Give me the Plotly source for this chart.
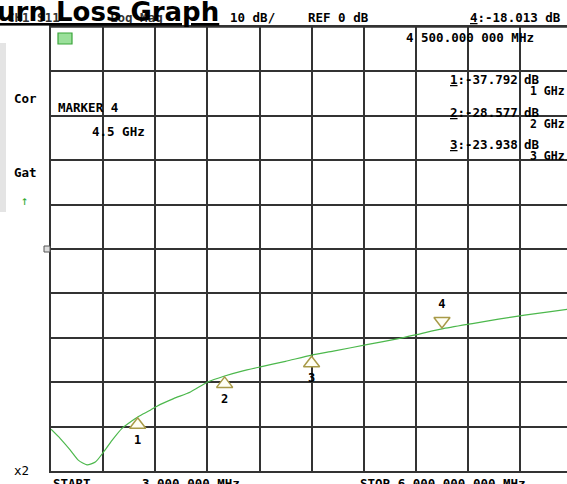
import plotly.graph_objects as go

# ---- data (frequency in MHz, return loss in dB) ----
freq_mhz = [3, 110, 225, 320, 417, 513, 608, 705, 820, 935, 1010, 1145, 1222, 1413, 1607,
            1800, 2000, 2200, 2400, 2700, 3000, 3250, 3650, 4000, 4250, 4500, 4850,
            5150, 5450, 5750, 6000]
s11_db = [-40.6, -42.7, -45.3, -47.6, -48.6, -48.0, -45.7, -43.1, -40.4, -38.7, -37.7,
          -36.3, -35.4, -33.7, -32.2, -30.0, -28.6, -27.5, -26.6, -25.3, -23.9, -23.0,
          -21.5, -20.2, -19.1, -18.0, -16.8, -15.8, -14.9, -14.1, -13.4]

marker_ids = ["1", "2", "3"]
marker_freq = [1000, 2000, 3000]
marker_db = [-37.792, -28.577, -23.938]
active_id = "4"
active_freq = 4500
active_db = -18.013

start_mhz = 3
stop_mhz = 6000
ref_db = 0
db_per_div = 10

W, H = 567, 484
L, R, T, B = 51, 0, 27, 13
pw = W - L - R
ph = H - T - B
full_w = 521.4  # full 10-division width in px (right edge lies outside the window)
x_max = start_mhz + pw / full_w * (stop_mhz - start_mhz)
db_per_px = (10 * db_per_div) / ph

def px(x):
    return (x - L) / pw

def py(y):
    return (H - B - y) / ph

green = "#4cb84c"
olive = "#a89a48"
mono = "DejaVu Sans Mono"

fig = go.Figure()
fig.add_trace(go.Scatter(x=freq_mhz, y=s11_db, mode="lines",
                         line=dict(color=green, width=1.2, shape="spline", smoothing=0.6),
                         hoverinfo="skip", showlegend=False))

# passive markers: triangle below the trace, tip on the trace
off = 8 * db_per_px
fig.add_trace(go.Scatter(x=marker_freq, y=[v - off for v in marker_db], mode="markers+text",
                         marker=dict(symbol="triangle-up", size=14, color="#fffff4",
                                     line=dict(color=olive, width=1.5)),
                         text=["<b>%s</b>" % m for m in marker_ids], textposition="bottom center",
                         textfont=dict(family=mono, size=12, color="black"),
                         hoverinfo="skip", showlegend=False, cliponaxis=False))
# active marker: inverted triangle above the trace
fig.add_trace(go.Scatter(x=[active_freq], y=[active_db + off], mode="markers+text",
                         marker=dict(symbol="triangle-down", size=14, color="#fffff4",
                                     line=dict(color=olive, width=1.5)),
                         text=["<b>%s</b>" % active_id], textposition="top center",
                         textfont=dict(family=mono, size=12, color="black"),
                         hoverinfo="skip", showlegend=False, cliponaxis=False))

fig.update_xaxes(range=[start_mhz, x_max], tick0=start_mhz,
                 dtick=(stop_mhz - start_mhz) / 10, showticklabels=False, ticks="",
                 showgrid=True, gridcolor="#333333", gridwidth=1.5, zeroline=False,
                 showline=True, linecolor="#333333", linewidth=1.5, mirror=True)
fig.update_yaxes(range=[ref_db - 5 * db_per_div, ref_db + 5 * db_per_div], tick0=0,
                 dtick=db_per_div, showticklabels=False, ticks="",
                 showgrid=True, gridcolor="#333333", gridwidth=1.5, zeroline=False,
                 showline=True, linecolor="#333333", linewidth=1.5, mirror=False)

shapes = [
    # left grey side panel
    dict(type="rect", xref="paper", yref="paper", x0=px(0), x1=px(6), y0=py(212), y1=py(43),
         fillcolor="#e4e4e4", line=dict(width=0), layer="below"),
    # top border
    dict(type="line", xref="paper", yref="paper", x0=0, x1=1, y0=1, y1=1,
         line=dict(color="#333333", width=1.5)),
    # small green status icon
    dict(type="rect", xref="paper", yref="paper", x0=px(58), x1=px(72), y0=py(44), y1=py(33),
         fillcolor="#9be09b", line=dict(color="#3aa53a", width=1.2)),
    # reference position marker
    dict(type="rect", xref="paper", yref="paper", x0=px(44), x1=px(50), y0=py(252), y1=py(246),
         fillcolor="#dddddd", line=dict(color="#555555", width=1)),
]

ann = []
def txt(x, y, s, size=12.5, color="black", anchor="left", family=mono, bold=True, yanchor="middle"):
    ann.append(dict(xref="paper", yref="paper", x=px(x), y=py(y),
                    text=("<b>%s</b>" % s) if bold else s, showarrow=False,
                    xanchor=anchor, yanchor=yanchor,
                    font=dict(family=family, size=size, color=color)))

def ul(s):
    return '<span style="text-decoration:underline">%s</span>' % s

# hidden header (behind the title)
txt(5, 17, "CH1 S11", color="#333333")
txt(108, 17, "Log Mag", color="#333333")
txt(228, 17, "10 dB/")
txt(306, 17, "REF %d dB" % ref_db)
txt(563, 17, "%s:%.3f dB" % (ul(active_id), active_db), anchor="right")
txt(536, 38, "4 500.000 000 MHz", anchor="right")
txt(56, 107, "MARKER %s" % active_id)
txt(90, 131, "%.1f GHz" % (active_freq / 1000))
ys = [79, 112, 144]
for mid, mf, md, yy in zip(marker_ids, marker_freq, marker_db, ys):
    txt(520, yy, "%s:%.3f" % (ul(mid), md), anchor="right")
    txt(522, yy, "dB")
    txt(528, yy + 12, "%d GHz" % (mf // 1000), size=11.5)
txt(12, 98, "Cor")
txt(12, 172, "Gat")
txt(19, 200, "↑", color="#33aa33", bold=False)
txt(12, 470, "x2", bold=False)
txt(51, 483, "START", yanchor="middle")
txt(140, 483, "3.000 000 MHz")
txt(358, 483, "STOP 6 000.000 000 MHz")

# title (partly cut off at the left edge)
ann.append(dict(xref="paper", yref="paper", x=px(221), y=py(29), text="<b>Return Loss Graph</b>",
                showarrow=False, xanchor="right", yanchor="bottom",
                font=dict(family="DejaVu Sans", size=26, color="black", lineposition="under")))

fig.update_layout(width=W, height=H, margin=dict(l=L, r=R, t=T, b=B),
                  paper_bgcolor="white", plot_bgcolor="white",
                  shapes=shapes, annotations=ann, showlegend=False)

fig.write_html("out.html", config={"displayModeBar": False},
               post_script="document.body.style.margin='0';document.body.style.overflow='hidden';")
